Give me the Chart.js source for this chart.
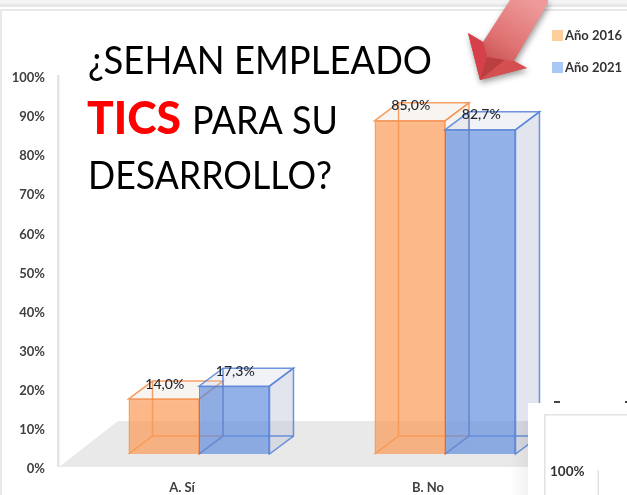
<!DOCTYPE html>
<html><head><meta charset="utf-8">
<style>html,body{margin:0;padding:0;background:#fff}canvas{display:block}</style>
<script src="https://cdn.jsdelivr.net/npm/chart.js@4"></script>
</head><body><canvas id="c" width="627" height="495"></canvas>
<script>
const categories = ["A. Sí", "B. No"];
const series2016 = [14.0, 85.0];
const series2021 = [17.3, 82.7];
const seriesNames = ["Año 2016", "Año 2021"];
const yTicks = [0,10,20,30,40,50,60,70,80,90,100];

const styles = [
  {fill:"rgba(251,150,80,.68)", edge:"rgba(245,150,85,.9)", side:"rgba(235,225,215,.4)", top:"rgba(235,225,215,.35)", legend:"#FDD09B"},
  {fill:"rgba(95,140,222,.68)", edge:"rgba(85,130,215,.85)", side:"rgba(190,198,218,.45)", top:"rgba(205,212,230,.3)", legend:"#A9C8F5"}
];
const DX=24, DY=-18, SHIFT=17;
const UI='Lato, "Open Sans", sans-serif';

function poly(ctx,pts,fill,stroke,lw){
  ctx.beginPath();pts.forEach((p,i)=>i?ctx.lineTo(p[0],p[1]):ctx.moveTo(p[0],p[1]));ctx.closePath();
  if(fill){ctx.fillStyle=fill;ctx.fill();}
  if(stroke){ctx.strokeStyle=stroke;ctx.lineWidth=lw||1.5;ctx.stroke();}
}
function frameAndTitle(ctx){
  ctx.save();
  ctx.fillStyle="#f4f4f4";ctx.fillRect(0,0,627,4);
  ctx.fillStyle="#e8e8e8";ctx.fillRect(0,4,627,3);
  ctx.fillRect(0,9,627,2);ctx.fillRect(0,9,2,486);
  poly(ctx,[[59,467],[118,421],[560,421],[560,467]],"#e9e9e9");
  ctx.fillStyle="#e4e4e4";ctx.fillRect(57,75,2.5,392);
  ctx.fillStyle="#000";ctx.textBaseline="alphabetic";ctx.textAlign="left";
  ctx.font='38px '+UI;
  ctx.fillText("¿SEHAN EMPLEADO",88,74,344);
  ctx.fillText("PARA SU",192,134,146);
  ctx.fillText("DESARROLLO?",88,189,244);
  ctx.fillStyle="#FF0000";ctx.font='900 46px '+UI;
  ctx.fillText("TICS",87,134,94);
  ctx.restore();
}
function overlays(ctx){
  ctx.save();
  ctx.save();
  ctx.shadowColor="rgba(0,0,0,.4)";ctx.shadowBlur=6;ctx.shadowOffsetX=1;ctx.shadowOffsetY=3;
  const g=ctx.createLinearGradient(530,0,485,70);
  g.addColorStop(0,"#EE9A9A");g.addColorStop(.6,"#DF7070");g.addColorStop(1,"#C04848");
  poly(ctx,[[510,0],[548,0],[548,3],[514,61],[527,68],[480,80],[468,33],[483,42]],g);
  ctx.restore();
  poly(ctx,[[468,33],[483,42],[487,57],[480,80]],"#D5404A");
  poly(ctx,[[487,57],[505,60],[480,80]],"#BC3F40");
  poly(ctx,[[505,60],[514,61],[527,68],[480,80]],"#D64F50");
  ctx.textAlign="left";ctx.textBaseline="middle";ctx.font='bold 13px '+UI;
  seriesNames.forEach((n,i)=>{
    const y=30+i*32;
    ctx.fillStyle=styles[i].legend;ctx.fillRect(552,y,11,11);
    ctx.fillStyle="#333";ctx.fillText(n,565,y+5.5,60);
  });
  const s=ctx.createLinearGradient(510,0,528,0);
  s.addColorStop(0,"rgba(0,0,0,0)");s.addColorStop(1,"rgba(0,0,0,.05)");
  ctx.fillStyle=s;ctx.fillRect(510,421,18,74);
  ctx.fillStyle="#fff";ctx.fillRect(528,403,99,92);
  ctx.fillStyle="#e2e2e2";ctx.fillRect(544,414,83,1.5);ctx.fillRect(544,414,1.5,81);
  ctx.fillRect(597.5,470,1.5,25);
  ctx.fillStyle="#333";ctx.font='bold 13.5px '+UI;ctx.fillText("100%",550,472);
  ctx.fillStyle="#444";ctx.fillRect(554,401,6,2);ctx.fillRect(625,401,2,2);
  ctx.restore();
}
function drawBack(chart,index,meta){
  const ctx=chart.ctx, st=styles[index];
  meta.data.forEach(b=>{
    const l=b.x-b.width/2,r=b.x+b.width/2,t=b.y,f=b.base;
    poly(ctx,[[l+DX,t+DY],[r+DX,t+DY],[r,t],[l,t]],st.top,st.edge);
    poly(ctx,[[r,t],[r+DX,t+DY],[r+DX,f+DY],[r,f]],st.side,st.edge);
    ctx.strokeStyle=st.edge;ctx.lineWidth=1.5;ctx.beginPath();
    ctx.moveTo(l+DX,t+DY);ctx.lineTo(l+DX,f+DY);ctx.lineTo(r+DX,f+DY);
    ctx.moveTo(l+DX,f+DY);ctx.lineTo(l,f);ctx.stroke();
  });
}
const box3d={
  id:"box3d",
  beforeDraw(chart){frameAndTitle(chart.ctx);},
  beforeDatasetsDraw(chart){chart.ctx.save();chart.ctx.translate(SHIFT,0);},
  beforeDatasetDraw(chart,args){
    // the second series has to lie over the first: it is drawn right after it
    if(args.index===1) return false;
    drawBack(chart,args.index,args.meta);
  },
  afterDatasetDraw(chart,args){
    if(args.index===0){
      const m=chart.getDatasetMeta(1);
      drawBack(chart,1,m);
      m.controller.draw();
    }
  },
  afterDatasetsDraw(chart){
    const ctx=chart.ctx;
    ctx.fillStyle="#1f2530";ctx.font='500 14px '+UI;ctx.textAlign="center";ctx.textBaseline="middle";
    chart.data.datasets.forEach((d,i)=>{
      chart.getDatasetMeta(i).data.forEach((b,j)=>{
        ctx.fillText(d.data[j].toFixed(1).replace(".",",")+"%",b.x+1,b.y-15);
      });
    });
    ctx.restore();
  },
  afterDraw(chart){overlays(chart.ctx);}
};
const chart=new Chart(document.getElementById("c"),{
  type:"bar",
  data:{labels:categories,datasets:[
    {label:seriesNames[0],data:series2016,backgroundColor:styles[0].fill,borderColor:styles[0].edge,borderWidth:1.5,yAxisID:"y2",clip:false},
    {label:seriesNames[1],data:series2021,backgroundColor:styles[1].fill,borderColor:styles[1].edge,borderWidth:1.5,yAxisID:"y2",clip:false}
  ]},
  plugins:[box3d],
  options:{
    responsive:false,animation:false,devicePixelRatio:1,
    layout:{padding:{left:0,right:76,top:0,bottom:0}},
    plugins:{legend:{display:false},title:{display:false},tooltip:{enabled:false}},
    datasets:{bar:{categoryPercentage:.573,barPercentage:1}},
    scales:{
      x:{grid:{display:false},border:{display:false},
        ticks:{color:"#404040",font:{family:UI,size:13,weight:"bold"},padding:3},
        afterFit(s){s.height=26;}},
      y:{position:"left",min:0,max:120,
        grid:{display:false,drawTicks:false},border:{display:false},
        afterBuildTicks(s){s.ticks=yTicks.map(v=>({value:v}));},
        ticks:{color:"#404040",font:{family:UI,size:13,weight:"bold"},padding:14,autoSkip:false,callback:v=>v+"%"},
        afterFit(s){s.width=59;}},
      y2:{display:false,min:-3.827,max:115.816}
    }
  }
});
// match the axis scale to the plot height that layout gave
const a=chart.chartArea, PXY=3.91, PXB=3.92, OFF=15;
chart.options.scales.y.max=a.height/PXY;
chart.options.scales.y2.min=-OFF/PXB;
chart.options.scales.y2.max=(a.height-OFF)/PXB;
chart.update();
</script></body></html>
